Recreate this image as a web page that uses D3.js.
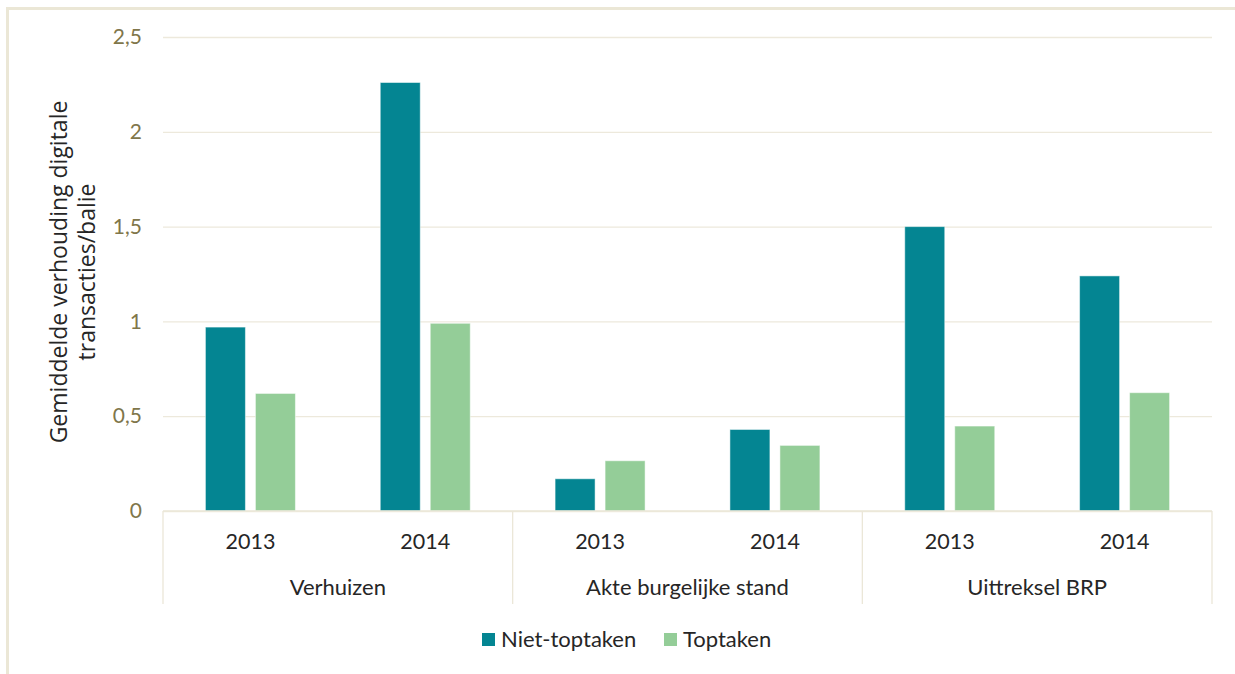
<!DOCTYPE html>
<html>
<head>
<meta charset="utf-8">
<script src="https://cdn.jsdelivr.net/npm/d3@7"></script>
<style>
  body { margin: 0; background: #fff; }
  svg { display: block; }
</style>
</head>
<body>
<svg id="chart" width="1235" height="674"></svg>
<script>
// data
const categories = ["Verhuizen", "Akte burgelijke stand", "Uittreksel BRP"];
const years = ["2013", "2014"];
const series = ["Niet-toptaken", "Toptaken"];
const nietToptaken = [0.97, 2.26, 0.17, 0.43, 1.50, 1.24];
const toptaken = [0.62, 0.99, 0.265, 0.346, 0.448, 0.624];
const yTicks = [0, 0.5, 1, 1.5, 2, 2.5];

const colors = ["#048592", "#94cd98"];

const width = 1235, height = 674;
const margin = { top: 37, bottom: 163, left: 163, right: 23 };
const boundsWidth = width - margin.left - margin.right;
const boundsHeight = height - margin.top - margin.bottom;

const svg = d3.select("#chart");

// frame
svg.append("path")
    .attr("d", `M7.5,${height} V8.5 H${width}`)
    .attr("fill", "none")
    .attr("stroke", "#ebe7d6")
    .attr("stroke-width", 3);

// rows: one per category/year
const rows = [];
categories.forEach((c, i) => {
    years.forEach((y, j) => {
        rows.push({ key: c + "|" + y, category: c, year: y, values: [nietToptaken[i * 2 + j], toptaken[i * 2 + j]] });
    });
});

const scaleX = d3.scaleBand()
    .domain(rows.map(d => d.key))
    .range([0, boundsWidth]);

const scaleY = d3.scaleLinear()
    .domain([0, 2.5])
    .range([boundsHeight, 0]);

const g = svg.append("g")
    .attr("transform", `translate(${margin.left}, ${margin.top})`);

// gridlines
const yAxis = d3.axisLeft(scaleY)
    .tickValues(yTicks)
    .tickSize(-boundsWidth)
    .tickPadding(21)
    .tickFormat(d => d3.format("")(d).replace(".", ","));

const yg = g.append("g").call(yAxis);
yg.select(".domain").remove();
yg.selectAll(".tick line").attr("stroke", "#ede9dc").attr("stroke-width", 1.3);
yg.selectAll(".tick text")
    .attr("fill", "#80764a")
    .style("font-family", "Lato, 'Open Sans', sans-serif")
    .style("font-size", "21px");

// bars
const barWidth = 40, gap = 10;
const sub = d3.scaleBand().domain([0, 1]).range([0, barWidth * 2 + gap]).paddingInner(gap / (barWidth + gap));

series.forEach((s, k) => {
    g.selectAll(`.bar-${k}`)
        .data(rows)
        .enter()
        .append("rect")
        .attr("class", `bar-${k}`)
        .attr("x", d => scaleX(d.key) + scaleX.bandwidth() / 2 - (barWidth * 2 + gap) / 2 + sub(k))
        .attr("y", d => scaleY(d.values[k]))
        .attr("width", sub.bandwidth())
        .attr("height", d => boundsHeight - scaleY(d.values[k]))
        .attr("fill", colors[k])
        .attr("stroke", "#ffffff")
        .attr("stroke-opacity", 0.5)
        .attr("stroke-width", 1);
});

// category axis: year labels, group labels and separators
const xg = g.append("g").attr("transform", `translate(0, ${boundsHeight})`);
const sepLen = 93;
const catWidth = boundsWidth / categories.length;
d3.range(categories.length + 1).forEach(i => {
    xg.append("line")
        .attr("x1", i * catWidth).attr("x2", i * catWidth)
        .attr("y1", 0).attr("y2", sepLen)
        .attr("stroke", "#ebe7d8")
        .attr("stroke-width", 1.3);
});
xg.append("line")
    .attr("x1", 0).attr("x2", boundsWidth)
    .attr("y1", 0).attr("y2", 0)
    .attr("stroke", "#ebe7d8")
    .attr("stroke-width", 1.3);

xg.selectAll(".year")
    .data(rows)
    .enter()
    .append("text")
    .attr("x", d => scaleX(d.key) + scaleX.bandwidth() / 2)
    .attr("y", 38)
    .attr("text-anchor", "middle")
    .attr("fill", "#262626")
    .style("font-family", "Lato, 'Open Sans', sans-serif")
    .style("font-size", "21.5px")
    .text(d => d.year);

xg.selectAll(".cat")
    .data(categories)
    .enter()
    .append("text")
    .attr("x", (d, i) => (i + 0.5) * catWidth)
    .attr("y", 84)
    .attr("text-anchor", "middle")
    .attr("fill", "#262626")
    .style("font-family", "Lato, 'Open Sans', sans-serif")
    .style("font-size", "22px")
    .text(d => d);

// y axis title
const title = svg.append("text")
    .attr("transform", `translate(67, 272) rotate(-90)`)
    .attr("text-anchor", "middle")
    .attr("fill", "#262626")
    .style("font-family", "'Open Sans', Lato, sans-serif")
    .style("font-size", "23px");
title.append("tspan").attr("x", 0).attr("dy", 0).text("Gemiddelde verhouding digitale");
title.append("tspan").attr("x", 0).attr("dy", 28).text("transacties/balie");

// legend
const legendX = [482, 664];
const legend = svg.append("g");
series.forEach((s, k) => {
    legend.append("rect")
        .attr("x", legendX[k]).attr("y", 633)
        .attr("width", 13).attr("height", 13)
        .attr("fill", colors[k]);
    legend.append("text")
        .attr("x", legendX[k] + 19).attr("y", 647)
        .attr("fill", "#262626")
        .style("font-family", "Lato, 'Open Sans', sans-serif")
        .style("font-size", "22px")
        .text(s);
});
</script>
</body>
</html>
